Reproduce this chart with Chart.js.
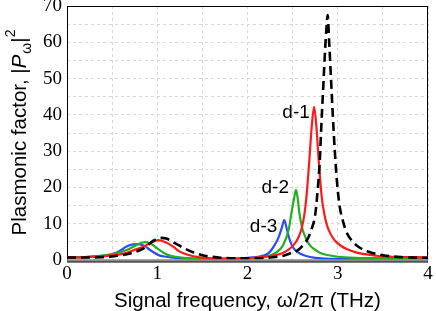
<!DOCTYPE html>
<html><head><meta charset="utf-8">
<script src="https://cdn.jsdelivr.net/npm/chart.js@4/dist/chart.umd.min.js"></script>
<style>html,body{margin:0;padding:0;background:#fff}</style>
</head><body>
<canvas id="c" width="436" height="311"></canvas>
<script>
// ---- data ----
const xTickValues = [0, 1, 2, 3, 4];
const yTickValues = [0, 10, 20, 30, 40, 50, 60, 70];

const refX = [0,0.2,0.4,0.48,0.6,0.7,0.8,0.85,0.9,0.95,1.0,1.05,1.1,1.2,1.3,1.4,1.5,1.6,1.7,1.9,2.1,2.25,2.4,2.47,2.55,2.62,2.67,2.71,2.75,2.78,2.80,2.82,2.84,2.86,2.875,2.888,2.905,2.925,2.945,2.965,2.99,3.02,3.06,3.1,3.16,3.25,3.35,3.5,3.7,4.0];
const refY = [0.7,0.7,0.8,0.9,1.3,1.8,2.6,3.2,4.2,5.2,5.8,6.1,5.9,4.6,3.2,2.1,1.3,0.9,0.6,0.45,0.45,0.7,1.2,1.8,2.6,4.2,6.0,8.5,12.5,20,27,38,48,58,64,67.5,60,50,40,31,22,15,10.5,7.5,5.2,3.3,2.2,1.3,0.8,0.6];

const d1X = [0,0.2,0.4,0.5,0.6,0.66,0.75,0.85,0.93,1.01,1.1,1.18,1.25,1.33,1.47,1.6,1.8,2.0,2.19,2.3,2.38,2.45,2.51,2.56,2.6,2.63,2.655,2.684,2.71,2.738,2.765,2.79,2.82,2.85,2.88,2.92,2.97,3.03,3.1,3.2,3.3,3.45,3.6,3.8,4.0];
const d1Y = [0.7,0.8,1.0,1.3,1.6,2.0,2.8,3.7,4.8,5.5,4.8,3.6,2.3,1.5,0.7,0.45,0.4,0.5,0.9,1.3,1.8,2.8,4.1,6.0,8.7,12.5,17.9,27.1,36.3,42.2,36.3,27.1,17.9,12.8,9.6,7.2,5.3,4.0,3.0,2.1,1.6,1.1,0.9,0.8,0.7];

const d2X = [0,0.2,0.4,0.5,0.6,0.66,0.73,0.8,0.866,0.93,1.0,1.07,1.14,1.2,1.3,1.5,1.8,2.0,2.1,2.19,2.3,2.396,2.459,2.489,2.515,2.537,2.557,2.573,2.607,2.65,2.69,2.75,2.82,2.9,3.0,3.2,3.5,4.0];
const d2Y = [0.7,0.8,1.2,1.6,2.2,2.75,3.6,4.5,4.9,4.5,3.2,2.0,1.2,0.9,0.6,0.35,0.3,0.4,0.6,0.8,1.8,4.1,8.7,13.3,16.8,19.3,16.8,13.3,8.7,5.8,4.1,2.8,1.8,1.3,0.9,0.6,0.5,0.5];

const d3X = [0,0.2,0.35,0.48,0.58,0.66,0.73,0.79,0.86,0.92,1.03,1.1,1.2,1.4,1.7,1.9,2.0,2.1,2.23,2.3,2.35,2.378,2.408,2.434,2.46,2.49,2.53,2.58,2.65,2.75,2.9,3.2,3.6,4.0];
const d3Y = [0.7,0.8,1.1,1.4,2.4,3.7,4.3,4.4,3.9,2.75,1.2,0.9,0.6,0.35,0.3,0.4,0.6,0.8,1.8,4.1,6.6,8.7,11.0,8.7,6.2,4.1,2.7,1.8,1.1,0.6,0.35,0.3,0.35,0.45];

const seriesNames = ['d-1', 'd-2', 'd-3'];
const labelX = [2.69, 2.46, 2.33];
const labelY = [40.5, 19.8, 9.1];

const xTitle = 'Signal frequency, \u03c9/2\u03c0 (THz)';
const yTitleMain = 'Plasmonic factor, |';
const yTitleP = 'P';
const yTitleSub = '\u03c9';
const yTitleBar = '|';
const yTitleSup = '2';

// ---- build ----
const pts = (xs, ys) => xs.map((x, i) => ({x: x, y: ys[i]}));
const SANS = '"Liberation Sans", Arial, Helvetica, sans-serif';
const SERIF = "'Liberation Serif', 'Times New Roman', Times, serif";

const framePlugin = {
  id: 'frame',
  beforeDatasetsDraw(chart) {
    const {ctx, chartArea: a} = chart;
    ctx.save();
    ctx.strokeStyle = '#000';
    ctx.lineWidth = 1;
    ctx.strokeRect(a.left + 0.5, a.top + 0.5, a.right - a.left - 1, a.bottom - a.top);
    ctx.restore();
  },
  afterDatasetsDraw(chart) {
    const {ctx, chartArea: a} = chart;
    ctx.save();
    ctx.strokeStyle = '#8a8a8a';
    ctx.lineWidth = 2.5;
    ctx.beginPath();
    ctx.moveTo(a.left, a.bottom + 0.5);
    ctx.lineTo(a.right, a.bottom + 0.5);
    ctx.stroke();
    ctx.strokeStyle = '#000';
    ctx.lineWidth = 1;
    ctx.beginPath();
    ctx.moveTo(a.left, a.bottom + 2);
    ctx.lineTo(a.right, a.bottom + 2);
    ctx.stroke();
    ctx.restore();
  },
  afterDraw(chart) {
    const {ctx, chartArea: a, scales} = chart;
    ctx.save();
    ctx.fillStyle = '#000';
    // series labels
    ctx.font = '19px ' + SANS;
    ctx.textAlign = 'right';
    ctx.textBaseline = 'middle';
    seriesNames.forEach((n, i) => {
      ctx.fillText(n, scales.x.getPixelForValue(labelX[i]), scales.y.getPixelForValue(labelY[i]));
    });
    // x title
    ctx.font = '20.5px ' + SANS;
    ctx.textAlign = 'center';
    ctx.textBaseline = 'alphabetic';
    ctx.fillText(xTitle, (a.left + a.right) / 2, 307);
    // y title (rotated)
    ctx.translate(26, (a.top + a.bottom) / 2);
    ctx.rotate(-Math.PI / 2);
    ctx.textAlign = 'left';
    const fMain = '20.5px ' + SANS;
    const fIt = 'italic 20.5px ' + SANS;
    const fSmall = '14px ' + SANS;
    const parts = [
      [yTitleMain, fMain, 0],
      [yTitleP, fIt, 0],
      [yTitleSub, fSmall, 5],
      [yTitleBar, fMain, 0],
      [yTitleSup, fSmall, -11]
    ];
    let total = 0;
    parts.forEach(p => { ctx.font = p[1]; p.push(ctx.measureText(p[0]).width); total += p[3]; });
    let cx = -total / 2;
    parts.forEach(p => { ctx.font = p[1]; ctx.fillText(p[0], cx, p[2]); cx += p[3] + (p[0] === yTitleP ? 1 : 0); });
    ctx.restore();
  }
};

const lineCommon = {pointRadius: 0, fill: false, cubicInterpolationMode: 'monotone', borderWidth: 2.2};

new Chart(document.getElementById('c'), {
  type: 'line',
  data: {
    datasets: [
      Object.assign({label: 'ref', data: pts(refX, refY), borderColor: '#000', borderDash: [9, 5], borderWidth: 2.6}, {pointRadius: 0, fill: false, cubicInterpolationMode: 'monotone'}),
      Object.assign({label: seriesNames[0], data: pts(d1X, d1Y), borderColor: '#ff1a1a'}, lineCommon),
      Object.assign({label: seriesNames[1], data: pts(d2X, d2Y), borderColor: '#22b01e'}, lineCommon),
      Object.assign({label: seriesNames[2], data: pts(d3X, d3Y), borderColor: '#2a4cff'}, lineCommon)
    ]
  },
  options: {
    responsive: false,
    animation: false,
    events: [],
    layout: {padding: {left: 0, top: 6, right: 8, bottom: 0}},
    plugins: {legend: {display: false}, tooltip: {enabled: false}},
    scales: {
      x: {
        type: 'linear', min: 0, max: 4,
        afterBuildTicks(s) { s.ticks = [0,0.5,1,1.5,2,2.5,3,3.5,4].map(v => ({value: v})); },
        afterFit(s) { s.height = 51; s.paddingLeft = 0; s.paddingRight = 0; },
        ticks: {
          autoSkip: false, maxRotation: 0, padding: 3, color: '#000',
          font: {family: SERIF, size: 19},
          callback: v => xTickValues.includes(v) ? String(v) : ''
        },
        grid: {color: '#d9d9d9', drawTicks: false},
        border: {display: false, dash: [3, 3]}
      },
      y: {
        type: 'linear', min: 0, max: 70,
        afterBuildTicks(s) { const t = []; for (let v = 0; v <= 70; v += 5) t.push({value: v}); s.ticks = t; },
        afterFit(s) { s.width = 67; s.paddingTop = 0; s.paddingBottom = 0; },
        ticks: {
          autoSkip: false, padding: 5, color: '#000',
          font: {family: SERIF, size: 19},
          callback: v => yTickValues.includes(v) ? String(v) : ''
        },
        grid: {color: '#d9d9d9', drawTicks: false},
        border: {display: false, dash: [3, 3]}
      }
    }
  },
  plugins: [framePlugin]
});
</script>
</body></html>
